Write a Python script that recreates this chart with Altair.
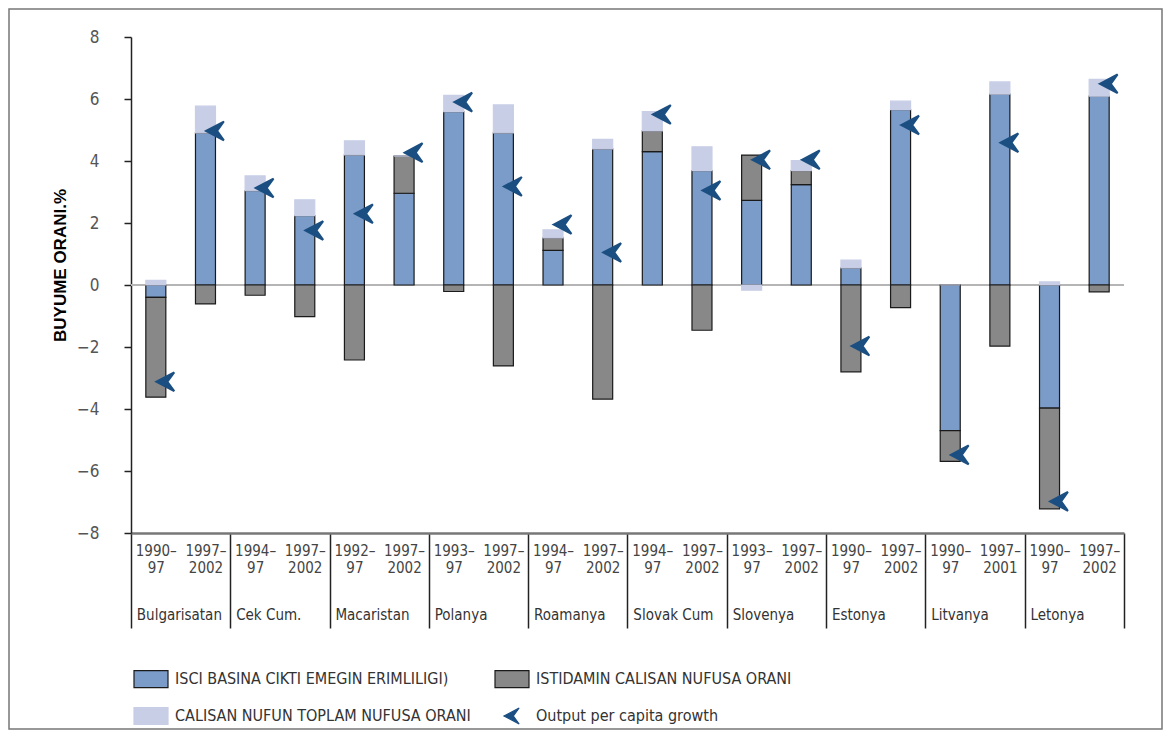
import altair as alt
import pandas as pd

COUNTRIES = ["Bulgarisatan", "Cek Cum.", "Macaristan", "Polanya", "Roamanya",
             "Slovak Cum", "Slovenya", "Estonya", "Litvanya", "Letonya"]
PERIOD_START = ["1990–", "1997–", "1994–", "1997–", "1992–", "1997–", "1993–", "1997–", "1994–", "1997–",
                "1994–", "1997–", "1993–", "1997–", "1990–", "1997–", "1990–", "1997–", "1990–", "1997–"]
PERIOD_END = ["97", "2002", "97", "2002", "97", "2002", "97", "2002", "97", "2002",
              "97", "2002", "97", "2002", "97", "2002", "97", "2001", "97", "2002"]

PRODUCTIVITY = [-0.40, 4.91, 3.04, 2.24, 4.20, 2.96, 5.59, 4.91, 1.12, 4.39,
                4.30, 3.69, 2.73, 3.24, 0.55, 5.66, -4.70, 6.16, -3.97, 6.09]
EMPLOYMENT_RATE = [-3.22, -0.61, -0.33, -1.02, -2.42, 1.20, -0.21, -2.61, 0.40, -3.68,
                   0.67, -1.46, 1.46, 0.45, -2.80, -0.73, -0.99, -1.97, -3.25, -0.22]
PARTICIPATION = [0.15, 0.86, 0.48, 0.51, 0.45, 0.00, 0.53, 0.90, 0.26, 0.31,
                 0.62, 0.77, -0.17, 0.32, 0.25, 0.27, 0.00, 0.39, 0.10, 0.54]
OUTPUT_GROWTH = [-3.12, 4.97, 3.13, 1.76, 2.30, 4.27, 5.90, 3.18, 1.95, 1.05,
                 5.50, 3.05, 4.04, 4.04, -1.97, 5.16, -5.48, 4.59, -6.98, 6.49]

SERIES = ["ISCI BASINA CIKTI EMEGIN ERIMLILIGI)", "ISTIDAMIN CALISAN NUFUSA ORANI",
          "CALISAN NUFUN TOPLAM NUFUSA ORANI", "Output per capita growth"]
FILLS = ["#7b9cc8", "#888888", "#c7cee6", "#1b4f82"]
STROKES = ["#1a1a1a", "#1a1a1a", "#c7cee6", "#1b4f82"]
RECT = "M-1,-0.5L1,-0.5L1,0.5L-1,0.5Z"
ARROW = "M-0.47,0L0.42,-0.47L0.08,0L0.42,0.47Z"
SHAPES = [RECT, RECT, RECT, ARROW]

# legend fills column by column: order so that rows read blue/gray, light/arrow
LEG = [0, 2, 1, 3]
LEG_DOMAIN = [SERIES[i] for i in LEG]
LEG_FILLS = [FILLS[i] for i in LEG]
LEG_STROKES = [STROKES[i] for i in LEG]
LEG_SHAPES = [SHAPES[i] for i in LEG]

NARROW = "Liberation Sans Narrow, Arial Narrow, DejaVu Sans Condensed, sans-serif"

keys = [f"{COUNTRIES[i // 2]}|{PERIOD_START[i]}|{PERIOD_END[i]}" for i in range(20)]

rows = []
for i, k in enumerate(keys):
    for j, arr in enumerate([PRODUCTIVITY, EMPLOYMENT_RATE, PARTICIPATION]):
        rows.append({"key": k, "series": SERIES[j], "value": arr[i], "order": j})
bars_df = pd.DataFrame(rows)
arrows_df = pd.DataFrame({"key": keys, "series": SERIES[3], "value": OUTPUT_GROWTH})
one_df = pd.DataFrame({"value": [0]})

xscale = alt.Scale(domain=keys, paddingInner=0, paddingOuter=0)
yscale = alt.Scale(domain=[-8, 8])

legend = alt.Legend(title=None, orient="none", legendX=2, legendY=624, columns=2,
                    columnPadding=21, rowPadding=8, symbolSize=1156, symbolStrokeWidth=1.2,
                    labelOffset=6, labelFont=NARROW, labelFontSize=16, labelColor="#333",
                    labelLimit=600, padding=0)

color = alt.Color("series:N", scale=alt.Scale(domain=LEG_DOMAIN, range=LEG_FILLS), legend=legend)
stroke = alt.Stroke("series:N", scale=alt.Scale(domain=LEG_DOMAIN, range=LEG_STROKES), legend=legend)
shape = alt.Shape("series:N", scale=alt.Scale(domain=LEG_DOMAIN, range=LEG_SHAPES), legend=legend)

period_axis = alt.Axis(
    orient="bottom", title=None, labelExpr="slice(split(datum.value, '|'), 1)",
    labelAngle=0, labelFont=NARROW, labelFontSize=15, labelColor="#444", labelLineHeight=17,
    labelPadding=-85, labelBaseline="top", tickBand="extent", tickSize=95, tickColor="#222",
    tickWidth=1.5,
    tickOpacity={"condition": {"test": "indexof(datum.value + '', '|1997') >= 0 || !isValid(datum.value)",
                               "value": 1}, "value": 0},
    domainColor="#777", domainWidth=2.5, grid=False)

country_axis = alt.Axis(
    orient="bottom", title=None,
    labelExpr="indexof(datum.value + '', '|1997') >= 0 ? '' : split(datum.value, '|')[0]",
    labelAngle=0, labelAlign="left", labelOffset=-19, labelPadding=74, labelBaseline="top",
    ticks=False, tickSize=0, domain=False, grid=False,
    labelFont=NARROW, labelFontSize=15, labelColor="#333", labelLimit=200)

y_axis = alt.Axis(
    values=[-8, -6, -4, -2, 0, 2, 4, 6, 8], title="BUYUME ORANI.%",
    titleFont="Liberation Sans, Arial, sans-serif", titleFontSize=17, titleFontWeight="bold",
    titleColor="#000", titleX=-62, titleY=228, titleAlign="center", titleBaseline="bottom",
    titleAngle=270, labelFont=NARROW, labelFontSize=17, labelColor="#555", labelPadding=25,
    tickSize=7, tickColor="#222", tickWidth=1.5, domainColor="#222", domainWidth=1.5, grid=False)

frame = alt.Chart(one_df).mark_rect(fillOpacity=0, stroke="#777", strokeWidth=1.5).encode(
    x=alt.value(-122), x2=alt.value(1031), y=alt.value(-28), y2=alt.value(692))

zero = alt.Chart(one_df).mark_rule(color="#b5b5b5", strokeWidth=2).encode(
    y=alt.Y("value:Q", scale=yscale, axis=y_axis))

bars = alt.Chart(bars_df).mark_bar(width=20, strokeWidth=1.2).encode(
    x=alt.X("key:N", sort=keys, scale=xscale, axis=period_axis),
    y=alt.Y("value:Q", stack="zero", scale=yscale, axis=y_axis),
    order=alt.Order("order:Q"),
    color=color,
    stroke=stroke,
)

arrows = alt.Chart(arrows_df).mark_point(filled=True, size=1600, xOffset=10, opacity=1).encode(
    x=alt.X("key:N", sort=keys, scale=xscale, axis=country_axis),
    y=alt.Y("value:Q", scale=yscale, axis=y_axis),
    color=color,
    stroke=stroke,
    shape=shape,
)

chart = alt.layer(frame, zero, bars, arrows).resolve_axis(x="independent").properties(
    width=993, height=496,
    padding={"left": 123, "top": 29, "right": 39, "bottom": 197},
    autosize=alt.AutoSizeParams(type="none"),
).configure(background="white").configure_view(stroke=None)

chart.save("out.html", embed_options={"renderer": "svg", "actions": False})
